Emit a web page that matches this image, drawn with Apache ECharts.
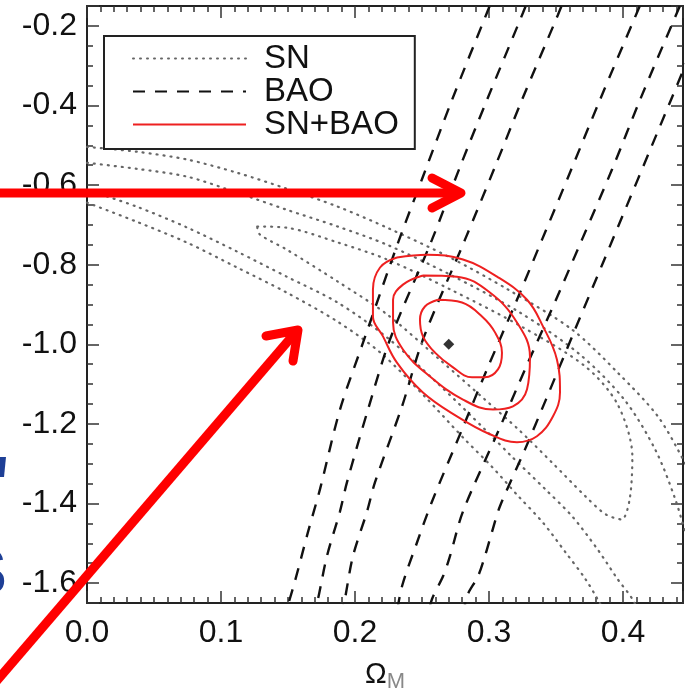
<!DOCTYPE html>
<html>
<head>
<meta charset="utf-8">
<script src="https://cdn.jsdelivr.net/npm/echarts@6/dist/echarts.min.js"></script>
<style>
html,body{margin:0;padding:0;background:#fff;overflow:hidden}
#c{width:685px;height:698px}
</style>
</head>
<body>
<div id="c"></div>
<script>
// ---- tick labels ----
const xTickLabels = [0.0, 0.1, 0.2, 0.3, 0.4];
const yTickLabels = [-1.6, -1.4, -1.2, -1.0, -0.8, -0.6, -0.4, -0.2];

// ---- SN contours (dotted) ----
const sn3Upper = [[0,-0.504],[0.037,-0.516],[0.075,-0.536],[0.112,-0.569],[0.149,-0.609],[0.187,-0.654],[0.224,-0.707],[0.271,-0.782],[0.314,-0.862],[0.362,-0.963],[0.396,-1.071],[0.426,-1.181],[0.446,-1.297],[0.46,-1.40]];
const sn2Upper = [[0,-0.544],[0.037,-0.559],[0.075,-0.579],[0.112,-0.619],[0.149,-0.662],[0.187,-0.704],[0.224,-0.750],[0.271,-0.825],[0.323,-0.920],[0.368,-1.026],[0.401,-1.139],[0.424,-1.264],[0.439,-1.389],[0.450,-1.515]];
const sn1Closed = [[0.127,-0.704],[0.149,-0.707],[0.187,-0.744],[0.224,-0.787],[0.271,-0.862],[0.323,-0.953],[0.372,-1.056],[0.396,-1.151],[0.407,-1.282],[0.405,-1.389],[0.399,-1.440],[0.387,-1.427],[0.372,-1.382],[0.347,-1.297],[0.322,-1.214],[0.297,-1.139],[0.263,-1.038],[0.224,-0.925],[0.187,-0.842],[0.149,-0.762],[0.129,-0.724],[0.127,-0.704]];
const sn2Lower = [[0,-0.612],[0.037,-0.654],[0.075,-0.707],[0.112,-0.767],[0.149,-0.830],[0.187,-0.895],[0.224,-0.983],[0.261,-1.096],[0.297,-1.214],[0.317,-1.282],[0.342,-1.364],[0.362,-1.432],[0.381,-1.515],[0.396,-1.590],[0.407,-1.640],[0.416,-1.703]];
const sn3Lower = [[0,-0.644],[0.037,-0.692],[0.075,-0.745],[0.112,-0.807],[0.149,-0.870],[0.187,-0.943],[0.219,-1.021],[0.252,-1.131],[0.282,-1.239],[0.302,-1.307],[0.322,-1.382],[0.340,-1.447],[0.357,-1.522],[0.372,-1.590],[0.381,-1.640],[0.390,-1.696]];

// ---- BAO contours (dashed), band edges ----
const bao3Left = [[0.3065,-0.10],[0.2985,-0.167],[0.2724,-0.386],[0.2507,-0.579],[0.2321,-0.745],[0.2060,-0.996],[0.1888,-1.164],[0.1739,-1.364],[0.1649,-1.472],[0.1552,-1.595],[0.1460,-1.70]];
const bao2Left = [[0.3334,-0.10],[0.3254,-0.167],[0.2985,-0.386],[0.2784,-0.554],[0.2575,-0.737],[0.2261,-0.988],[0.2097,-1.164],[0.1940,-1.347],[0.1888,-1.420],[0.1791,-1.532],[0.1724,-1.640],[0.1680,-1.70]];
const bao1Left = [[0.3600,-0.10],[0.3515,-0.172],[0.3246,-0.386],[0.3045,-0.554],[0.2821,-0.737],[0.2507,-0.988],[0.2351,-1.156],[0.2149,-1.347],[0.2090,-1.420],[0.1985,-1.532],[0.1925,-1.640],[0.1890,-1.70]];
const bao1Right = [[0.4190,-0.10],[0.4104,-0.167],[0.3828,-0.386],[0.3604,-0.569],[0.3396,-0.737],[0.3209,-0.888],[0.2985,-1.063],[0.2799,-1.214],[0.2575,-1.395],[0.2463,-1.498],[0.2351,-1.608],[0.2300,-1.70]];
const bao2Right = [[0.4490,-0.10],[0.4403,-0.167],[0.4127,-0.386],[0.3918,-0.561],[0.3694,-0.737],[0.3500,-0.888],[0.3269,-1.063],[0.3075,-1.214],[0.2806,-1.420],[0.2709,-1.532],[0.2657,-1.583],[0.2575,-1.640],[0.2530,-1.70]];
const bao3Right = [[0.4627,-0.167],[0.4358,-0.386],[0.3851,-0.795],[0.3642,-0.963],[0.3425,-1.139],[0.3269,-1.264],[0.3082,-1.407],[0.3022,-1.472],[0.2970,-1.532],[0.2918,-1.583],[0.2836,-1.633],[0.2800,-1.70]];

// ---- SN+BAO contours (red, closed) ----
const joint1 = [[0.2619,-0.888],[0.2799,-0.895],[0.2948,-0.930],[0.3045,-0.970],[0.3097,-1.021],[0.3067,-1.063],[0.2970,-1.083],[0.2873,-1.083],[0.2724,-1.056],[0.2597,-1.021],[0.2507,-0.980],[0.2485,-0.938],[0.2522,-0.905],[0.2619,-0.888]];
const joint2 = [[0.2507,-0.827],[0.2761,-0.830],[0.3007,-0.870],[0.3209,-0.945],[0.3306,-1.031],[0.3284,-1.113],[0.3179,-1.156],[0.3030,-1.164],[0.2806,-1.139],[0.2560,-1.081],[0.2358,-1.013],[0.2284,-0.945],[0.2284,-0.888],[0.2358,-0.850],[0.2507,-0.827]];
const joint3 = [[0.2313,-0.782],[0.2537,-0.775],[0.2806,-0.787],[0.3060,-0.830],[0.3284,-0.888],[0.3403,-0.955],[0.3507,-1.038],[0.3530,-1.121],[0.3478,-1.181],[0.3358,-1.231],[0.3209,-1.246],[0.3007,-1.226],[0.2761,-1.181],[0.2507,-1.121],[0.2313,-1.046],[0.2209,-0.980],[0.2134,-0.930],[0.2134,-0.862],[0.2187,-0.807],[0.2313,-0.782]];
const bestFit = [[0.27,-1.0]];

// ---- axis extents ----
const X_MIN = 0, X_MAX = 0.4448, Y_MIN = -1.65, Y_MAX = -0.15;

const FONT = '"Liberation Sans", Arial, Helvetica, sans-serif';
const isIn = (v, list) => list.some(t => Math.abs(t - v) < 1e-6);
const axisLineStyle = {color:'#222', width:2};
const tickStyle = {color:'#333', width:1.5};

function xAx(pos, interval, len, opts) {
  return Object.assign({
    type:'value', position:pos, min:X_MIN, max:X_MAX, interval:interval,
    axisLine:{show:false, onZero:false},
    axisTick:{show:true, inside:true, length:len, lineStyle:tickStyle},
    axisLabel:{show:false}, splitLine:{show:false}
  }, opts || {});
}
function yAx(pos, len, opts) {
  return Object.assign({
    type:'value', position:pos, min:Y_MIN, max:Y_MAX,
    axisLine:{show:false, onZero:false},
    axisTick:{show:true, inside:true, length:len, lineStyle:tickStyle},
    axisLabel:{show:false}, splitLine:{show:false}
  }, opts || {});
}

const dotted = {color:'#666', width:2.2, type:[1,6], cap:'round'};
const dashed = {color:'#111', width:2.4, type:[12,10]};
const red = {color:'#ee2020', width:2};

function ln(name, data, style, smooth) {
  return {type:'line', name:name, data:data, showSymbol:false, symbol:'none',
    smooth: smooth, lineStyle:style, itemStyle:{color:style.color}, clip:true,
    silent:true, animation:false, emphasis:{disabled:true}};
}

const option = {
  animation:false,
  grid:{left:87, right:2, top:6, bottom:95, containLabel:false, outerBoundsMode:'none'},
  legend:{
    data:['SN','BAO','SN+BAO'], orient:'vertical', left:104, top:36,
    padding:[6,16,8,28], itemGap:0, itemWidth:113, itemHeight:14,
    borderColor:'#222', borderWidth:2, borderRadius:0, backgroundColor:'#fff',
    selectedMode:false,
    itemStyle:{color:'rgba(0,0,0,0)', borderWidth:0, opacity:0},
    textStyle:{fontSize:33, lineHeight:29, color:'#111', fontFamily:FONT, padding:[0,0,0,13]}
  },
  xAxis:[
    xAx('bottom', 0.01, 6, {
      axisLine:{show:true, onZero:false, lineStyle:axisLineStyle},
      name:'{o|Ω}{m|M}', nameLocation:'middle', nameGap:54, nameMoveOverlap:false,
      nameTextStyle:{fontFamily:FONT, color:'#111', rich:{
        o:{fontSize:29, lineHeight:36, verticalAlign:'middle', fontFamily:FONT, color:'#111'},
        m:{fontSize:22, lineHeight:2, verticalAlign:'bottom', fontFamily:FONT, color:'#888'}
      }}
    }),
    xAx('bottom', 0.1, 12, {
      axisLabel:{show:true, margin:14, fontSize:32, fontFamily:FONT, color:'#111',
        formatter: v => isIn(v, xTickLabels) ? v.toFixed(1) : ''}
    }),
    xAx('top', 0.01, 6, {axisLine:{show:true, onZero:false, lineStyle:axisLineStyle}}),
    xAx('top', 0.1, 12)
  ],
  yAxis:[
    yAx('left', 6, {interval:0.05, axisLine:{show:true, onZero:false, lineStyle:axisLineStyle}}),
    yAx('left', 12, {splitNumber:8, minInterval:0.2, maxInterval:0.2,
      axisLabel:{show:true, margin:10, fontSize:32, fontFamily:FONT, color:'#111',
        formatter: v => isIn(v, yTickLabels) ? v.toFixed(1) : ''}}),
    yAx('right', 6, {interval:0.05, axisLine:{show:true, onZero:false, lineStyle:axisLineStyle}}),
    yAx('right', 12, {splitNumber:8, minInterval:0.2, maxInterval:0.2})
  ],
  series:[
    ln('SN', sn3Upper, dotted, 0.3),
    ln('SN', sn2Upper, dotted, 0.3),
    ln('SN', sn1Closed, dotted, 0.3),
    ln('SN', sn2Lower, dotted, 0.3),
    ln('SN', sn3Lower, dotted, 0.3),
    ln('BAO', bao3Left, dashed, 0.3),
    ln('BAO', bao2Left, dashed, 0.3),
    ln('BAO', bao1Left, dashed, 0.3),
    ln('BAO', bao1Right, dashed, 0.3),
    ln('BAO', bao2Right, dashed, 0.3),
    ln('BAO', bao3Right, dashed, 0.3),
    ln('SN+BAO', joint1, red, 0.4),
    ln('SN+BAO', joint2, red, 0.4),
    ln('SN+BAO', joint3, red, 0.4),
    {type:'scatter', name:'best fit', data:bestFit, symbol:'diamond', symbolSize:11,
      itemStyle:{color:'#000'}, silent:true, animation:false}
  ],
  graphic:[
    // red slide annotations
    {type:'line', z:100, shape:{x1:-10, y1:193, x2:455, y2:193},
      style:{stroke:'#ff0000', lineWidth:9}},
    {type:'polyline', z:100, shape:{points:[[432,178],[461,193],[432,208]]},
      style:{stroke:'#ff0000', lineWidth:9, lineCap:'round', lineJoin:'round', fill:null}},
    {type:'line', z:100, shape:{x1:-12, y1:691, x2:295, y2:333},
      style:{stroke:'#ff0000', lineWidth:9}},
    {type:'polyline', z:100, shape:{points:[[266,336],[298,330],[293,361]]},
      style:{stroke:'#ff0000', lineWidth:9, lineCap:'round', lineJoin:'round', fill:null}},
    // clipped blue slide text at left edge
    {type:'polygon', z:100, shape:{points:[[0,457],[6,457],[4,477],[0,477]]}, style:{fill:'#1e3f96'}},
    {type:'text', z:100, x:-36, y:544, style:{text:'S', font:'bold 64px ' + FONT, fill:'#1e3f96'}}
  ]
};

const chart = echarts.init(document.getElementById('c'));
chart.setOption(option);
</script>
</body>
</html>
